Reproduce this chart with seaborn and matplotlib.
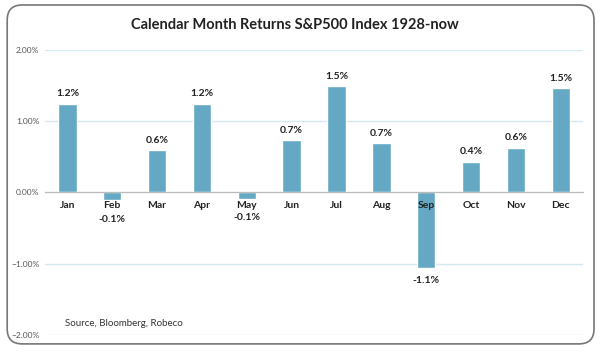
import matplotlib
matplotlib.use("Agg")
import matplotlib.pyplot as plt
from matplotlib.patches import FancyBboxPatch
from matplotlib.ticker import FixedLocator, PercentFormatter
import pandas as pd
import seaborn as sns

# average calendar month returns (%)
months = ['Jan', 'Feb', 'Mar', 'Apr', 'May', 'Jun',
          'Jul', 'Aug', 'Sep', 'Oct', 'Nov', 'Dec']
returns = [1.24, -0.11, 0.59, 1.24, -0.09, 0.73,
           1.49, 0.69, -1.06, 0.43, 0.63, 1.46]
labels = ['1.2%', '-0.1%', '0.6%', '1.2%', '-0.1%', '0.7%',
          '1.5%', '0.7%', '-1.1%', '0.4%', '0.6%', '1.5%']
yticks = [-2, -1, 0, 1, 2]

df = pd.DataFrame({'month': months, 'ret': returns})

sns.set_style("white")
plt.rcParams['font.family'] = ['Lato', 'DejaVu Sans']

fig = plt.figure(figsize=(6, 3.56), dpi=100)
ax = fig.add_axes([0.075, 0.059, 0.897, 0.801])

sns.barplot(data=df, x='month', y='ret', order=months, color='#64A8C4',
            width=0.41, saturation=1, ax=ax, zorder=3)

ax.set_ylim(-2, 2)
ax.set_xlim(-0.5, 11.5)
ax.set_yticks(yticks)
ax.yaxis.set_major_formatter(PercentFormatter(decimals=2))
ax.grid(axis='y', color='#D4E8F0', lw=1)
ax.tick_params(axis='y', length=0, labelsize=6, labelcolor='#555555', pad=4)

# category axis sits on zero, drawn above the bars; grid stays behind
for s in ['top', 'right', 'left']:
    ax.spines[s].set_visible(False)
ax.spines['bottom'].set_position(('data', 0))
ax.spines['bottom'].set_color('#BBBBBB')
ax.spines['bottom'].set_zorder(4)
ax.yaxis.set_zorder(0.5)
ax.xaxis.set_zorder(5)
ax.xaxis.set_minor_locator(FixedLocator([i - 0.5 for i in range(13)]))
ax.tick_params(axis='x', which='major', length=0, labelsize=7.5, pad=6)
ax.tick_params(axis='x', which='minor', length=3, color='#BBBBBB', direction='out')
for t in ax.get_xticklabels():
    t.set_fontweight('bold')
    t.set_color('#222222')
ax.set(xlabel=None, ylabel=None)

# data labels
for i, (v, lab) in enumerate(zip(returns, labels)):
    if v >= 0:
        ax.annotate(lab, (i, v), xytext=(0, 4), textcoords='offset points',
                    ha='center', va='bottom', fontsize=7.5, fontweight='bold', color='#222222')
    else:
        off = -10.5 if v > -0.3 else -6
        ax.annotate(lab, (i, v), xytext=(0, off), textcoords='offset points',
                    ha='center', va='top', fontsize=7.5, fontweight='bold', color='#222222')

ax.text(0.037, 0.025, 'Source, Bloomberg, Robeco', transform=ax.transAxes,
        fontsize=7, color='#333333', va='bottom')

fig.text(0.492, 0.93, 'Calendar Month Returns S&P500 Index 1928-now',
         ha='center', va='center', fontsize=10.5, fontweight='bold', color='#222222')

frame = FancyBboxPatch((0.012, 0.034), 0.978, 0.952, boxstyle='round,pad=0,rounding_size=0.025',
                       transform=fig.transFigure, fill=False, ec='#777777', lw=1.2,
                       mutation_aspect=600 / 356)
fig.patches.append(frame)

plt.savefig("out.png", dpi=100)
